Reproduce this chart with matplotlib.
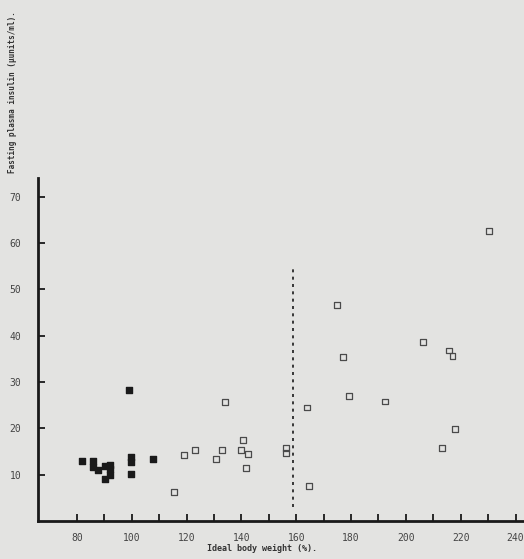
import matplotlib
matplotlib.use("Agg")
import matplotlib.pyplot as plt

# lean group (filled squares)
lean_ibw = [81.7, 85.7, 86.0, 87.8, 90.2, 90.2, 92.0, 92.0, 92.0, 99.1, 99.6, 99.6, 99.7, 107.6]
lean_ins = [13.0, 13.0, 11.7, 10.9, 11.9, 9.1, 12.1, 11.2, 9.9, 28.3, 13.8, 12.8, 10.2, 13.3]

# overweight / obese group (open squares)
obese_ibw = [115.4, 119.0, 123.2, 130.7, 132.8, 134.0, 140.7, 139.7, 142.5, 141.7,
             156.3, 156.3, 163.8, 164.8, 174.8, 177.2, 179.4, 192.4, 206.4, 215.9,
             217.0, 213.1, 218.0, 230.4]
obese_ins = [6.3, 14.2, 15.4, 13.4, 15.3, 25.6, 17.5, 15.3, 14.4, 11.5,
             15.7, 14.6, 24.5, 7.6, 46.7, 35.5, 26.9, 25.8, 38.7, 36.8,
             35.7, 15.7, 19.8, 62.6]

cutoff = 159
cutoff_span = [3, 55]

xticks = list(range(80, 241, 10))
xlabels = [str(t) if t % 20 == 0 else "" for t in xticks]
yticks = [10, 20, 30, 40, 50, 60, 70]

bg = "#e3e3e1"
ink = "#1a1a1a"
mono = "DejaVu Sans Mono"

fig = plt.figure(figsize=(5.24, 5.59), dpi=100, facecolor=bg)
ax = fig.add_axes([0.0725, 0.068, 0.9275, 0.614], facecolor=bg)

ax.scatter(obese_ibw, obese_ins, marker="s", s=18, facecolors="none",
           edgecolors="#4a4a4a", linewidths=0.9, zorder=3)
ax.scatter(lean_ibw, lean_ins, marker="s", s=18, color=ink, zorder=3)
ax.vlines(cutoff, cutoff_span[0], cutoff_span[1], colors=ink, linestyles=(0, (1.8, 2.6)),
          linewidth=1.2)

ax.set_xlim(65.8, 243.1)
ax.set_ylim(0, 74.1)
ax.set_xticks(xticks)
ax.set_xticklabels(xlabels)
ax.set_yticks(yticks)
ax.tick_params(direction="in", length=5, width=1.3, color=ink, labelsize=7,
               labelcolor="#444444")
ax.tick_params(axis="x", pad=9)
ax.tick_params(axis="y", pad=12)
for lab in ax.get_xticklabels() + ax.get_yticklabels():
    lab.set_family(mono)

for s in ["top", "right"]:
    ax.spines[s].set_visible(False)
for s in ["left", "bottom"]:
    ax.spines[s].set_linewidth(2.0)
    ax.spines[s].set_color(ink)

fig.text(0.395, 0.019, "Ideal body weight (%).", family=mono, fontsize=6,
         color="#333333", weight="bold", ha="left", va="center")
fig.text(0.023, 0.835, "Fasting plasma insulin (\u03bcunits/ml).", family=mono,
         fontsize=5.5, color="#333333", weight="bold", rotation=90,
         ha="center", va="center")

fig.savefig("out.png", dpi=100, facecolor=bg)
